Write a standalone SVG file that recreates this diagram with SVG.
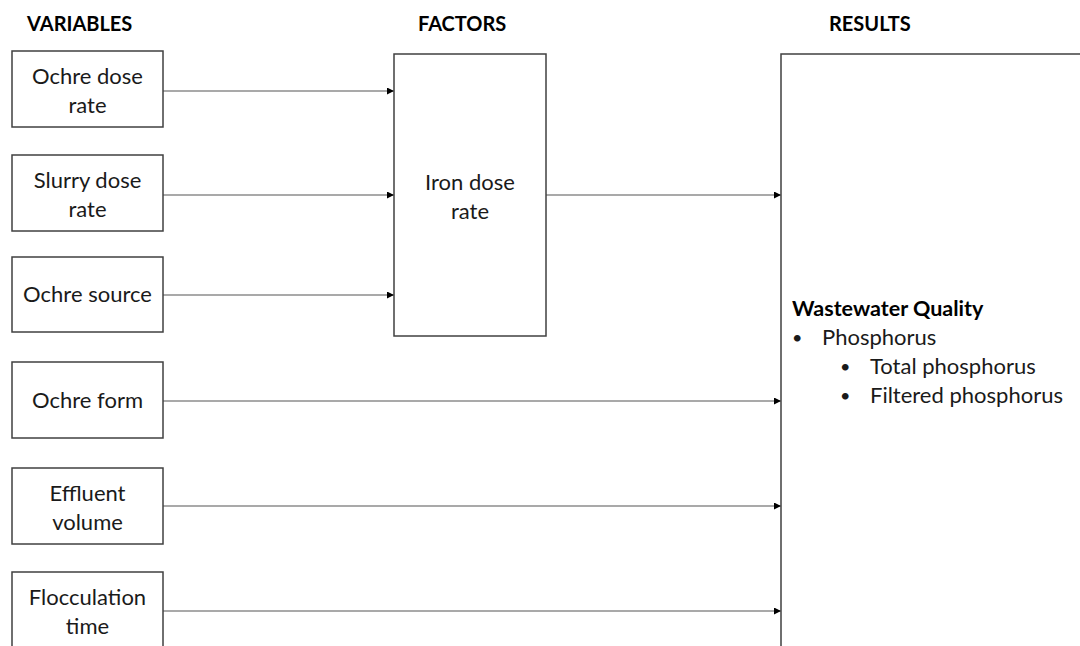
<svg xmlns="http://www.w3.org/2000/svg" width="1080" height="646" viewBox="0 0 1080 646">
<defs>
<marker id="ah" viewBox="0 0 10 10" refX="10" refY="5" markerWidth="7" markerHeight="7" markerUnits="userSpaceOnUse" orient="auto">
<path d="M0,0 L10,5 L0,10 z" fill="#000"/>
</marker>
<style>
.box{fill:#fff;stroke:#404040;stroke-width:1.5}
.t{font-family:Lato,"Liberation Sans",sans-serif;font-size:22px;fill:#1a1a1a;text-anchor:middle}
.h{font-family:Lato,"Liberation Sans",sans-serif;font-size:20px;font-weight:bold;fill:#000}
.r{font-family:Lato,"Liberation Sans",sans-serif;font-size:22px;fill:#1a1a1a}
.rb{font-family:Lato,"Liberation Sans",sans-serif;font-size:21.5px;font-weight:bold;fill:#000}
.bl{font-family:Lato,"Liberation Sans",sans-serif;font-size:18px;fill:#1a1a1a}
.c{stroke:#8c8c8c;stroke-width:1.3;fill:none;marker-end:url(#ah)}
</style>
</defs>
<rect width="1080" height="646" fill="#fff"/>
<g id="headers">
<text class="h" x="27" y="31">VARIABLES</text>
<text class="h" x="418" y="31">FACTORS</text>
<text class="h" x="829" y="31">RESULTS</text>
</g>
<g id="connectors">
<line class="c" x1="163" y1="91" x2="394" y2="91"/>
<line class="c" x1="163" y1="195" x2="394" y2="195"/>
<line class="c" x1="163" y1="295" x2="394" y2="295"/>
<line class="c" x1="546" y1="195" x2="781" y2="195"/>
<line class="c" x1="163" y1="401" x2="781" y2="401"/>
<line class="c" x1="163" y1="506" x2="781" y2="506"/>
<line class="c" x1="163" y1="611" x2="781" y2="611"/>
</g>
<g id="ochre-dose-rate">
<rect class="box" x="12" y="51" width="151" height="76"/>
<text class="t" x="87.5" y="84">Ochre dose</text>
<text class="t" x="87.5" y="113">rate</text>
</g>
<g id="slurry-dose-rate">
<rect class="box" x="12" y="155" width="151" height="76"/>
<text class="t" x="87.5" y="188">Slurry dose</text>
<text class="t" x="87.5" y="217">rate</text>
</g>
<g id="ochre-source">
<rect class="box" x="12" y="257" width="151" height="75"/>
<text class="t" x="87.5" y="302">Ochre source</text>
</g>
<g id="ochre-form">
<rect class="box" x="12" y="362" width="151" height="76"/>
<text class="t" x="87.5" y="408">Ochre form</text>
</g>
<g id="effluent-volume">
<rect class="box" x="12" y="468" width="151" height="76"/>
<text class="t" x="87.5" y="501">Effluent</text>
<text class="t" x="87.5" y="530">volume</text>
</g>
<g id="flocculation-time">
<rect class="box" x="12" y="572" width="151" height="80"/>
<text class="t" x="87.5" y="605">Flocculation</text>
<text class="t" x="87.5" y="634">time</text>
</g>
<g id="iron-dose-rate">
<rect class="box" x="394" y="54" width="152" height="282"/>
<text class="t" x="470" y="190">Iron dose</text>
<text class="t" x="470" y="219">rate</text>
</g>
<g id="wastewater-quality">
<rect class="box" x="781" y="54" width="310" height="600"/>
<text class="rb" x="792" y="316">Wastewater Quality</text>
<text class="bl" x="792" y="344">•</text>
<text class="r" x="822" y="345">Phosphorus</text>
<text class="bl" x="840" y="373">•</text>
<text class="r" x="870" y="374">Total phosphorus</text>
<text class="bl" x="840" y="402">•</text>
<text class="r" x="870" y="403">Filtered phosphorus</text>
</g>
</svg>
